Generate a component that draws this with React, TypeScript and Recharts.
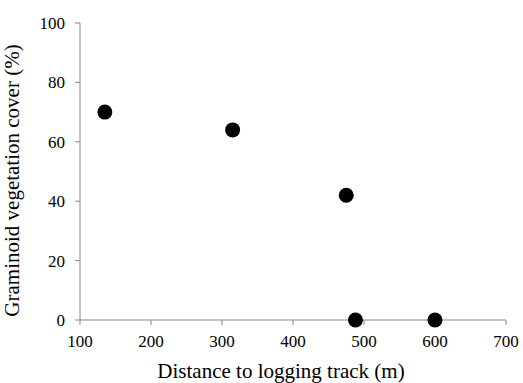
import React from "react";
import { ScatterChart, Scatter, XAxis, YAxis, Label } from "recharts";

const distances = [135, 315, 475, 488, 600];
const cover = [70, 64, 42, 0, 0];
const xTicks = [100, 200, 300, 400, 500, 600, 700];
const yTicks = [0, 20, 40, 60, 80, 100];

const data = distances.map((d, i) => ({ x: d, y: cover[i] }));

const FONT = "'Liberation Serif', 'Times New Roman', serif";
const AXIS = "#868686";

const Dot = (props: any) => {
  const { cx, cy } = props;
  return <circle cx={cx} cy={cy} r={7.5} fill="#000" />;
};

const XTick = (props: any) => {
  const { x, y, payload } = props;
  return (
    <text x={x} y={y + 20} textAnchor="middle" fill="#000" style={{ fontSize: 17, fontFamily: FONT }}>
      {payload.value}
    </text>
  );
};

const YTick = (props: any) => {
  const { x, y, payload } = props;
  return (
    <text x={x - 8} y={y + 6} textAnchor="end" fill="#000" style={{ fontSize: 17, fontFamily: FONT }}>
      {payload.value}
    </text>
  );
};

export default function App() {
  return (
    <div style={{ position: "absolute", left: 0, top: 0, background: "#fff", fontFamily: FONT }}>
      <ScatterChart
        width={523}
        height={383}
        margin={{ top: 23, right: 17, bottom: 0, left: 0 }}
        style={{ fontFamily: FONT }}
      >
        <XAxis
          type="number"
          dataKey="x"
          domain={[100, 700]}
          ticks={xTicks}
          height={63}
          stroke={AXIS}
          tickLine={{ stroke: AXIS }}
          tickSize={5}
          tick={<XTick />}
          interval={0}
        >
          <Label
            value="Distance to logging track (m)"
            position="insideBottom"
            offset={5}
            dx={-12}
            style={{ fill: "#000", fontSize: 21, fontFamily: FONT }}
          />
        </XAxis>
        <YAxis
          type="number"
          dataKey="y"
          domain={[0, 100]}
          ticks={yTicks}
          width={80}
          stroke={AXIS}
          tickLine={{ stroke: AXIS }}
          tickSize={5}
          tick={<YTick />}
          interval={0}
        >
          <Label
            value="Graminoid vegetation cover (%)"
            angle={-90}
            position="insideLeft"
            offset={12}
            dy={9}
            style={{ fill: "#000", fontSize: 21, fontFamily: FONT, textAnchor: "middle" }}
          />
        </YAxis>
        <Scatter data={data} shape={<Dot />} isAnimationActive={false} />
      </ScatterChart>
    </div>
  );
}
